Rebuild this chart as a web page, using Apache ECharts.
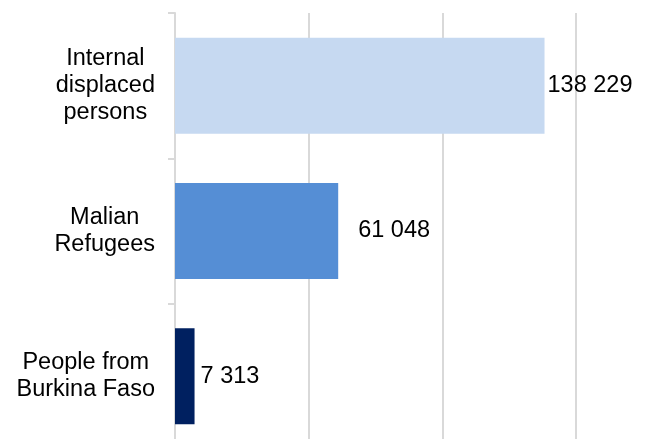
<!DOCTYPE html>
<html>
<head>
<meta charset="utf-8">
<script src="https://cdn.jsdelivr.net/npm/echarts@6/dist/echarts.min.js"></script>
<style>
html,body{margin:0;padding:0;background:#fff;}
#chart{width:650px;height:439px;}
</style>
</head>
<body>
<div id="chart"></div>
<script>
var categories = ['Internal\ndisplaced\npersons', 'Malian\nRefugees', 'People from\nBurkina Faso'];
var values = [138229, 61048, 7313];
var barColors = ['#C6D9F1', '#558ED5', '#002060'];
var labelDistances = [3, 20, 6];

var chart = echarts.init(document.getElementById('chart'));
var font = '"Liberation Sans", Arial, sans-serif';

function fmt(v) {
  return String(v).replace(/\B(?=(\d{3})+(?!\d))/g, ' ');
}

chart.setOption({
  animation: false,
  grid: { left: 175, width: 401, top: 13, height: 436, containLabel: false, outerBoundsMode: 'none' },
  xAxis: {
    type: 'value', min: 0, max: 150000, interval: 50000,
    axisLine: { show: false }, axisTick: { show: false }, axisLabel: { show: false },
    splitLine: { show: true, lineStyle: { color: '#D9D9D9', width: 2 } }
  },
  yAxis: {
    type: 'category', inverse: true, data: categories,
    axisLine: { show: true, lineStyle: { color: '#D9D9D9', width: 2 } },
    axisTick: { show: true, length: 7, lineStyle: { color: '#D9D9D9', width: 2 } },
    axisLabel: {
      margin: 20,
      formatter: function (v) {
        return v.split('\n').map(function (s) { return '{c|' + s + '}'; }).join('\n');
      },
      rich: { c: { align: 'center', fontSize: 23.5, lineHeight: 27, color: '#000', fontFamily: font } }
    }
  },
  series: [{
    type: 'bar',
    barWidth: '66%',
    data: values.map(function (v, i) {
      return {
        value: v,
        itemStyle: { color: barColors[i] },
        label: { distance: labelDistances[i] }
      };
    }),
    label: {
      show: true, position: 'right', color: '#000', fontSize: 23.5, fontFamily: font,
      formatter: function (p) { return fmt(p.value); }
    }
  }]
});
</script>
</body>
</html>
